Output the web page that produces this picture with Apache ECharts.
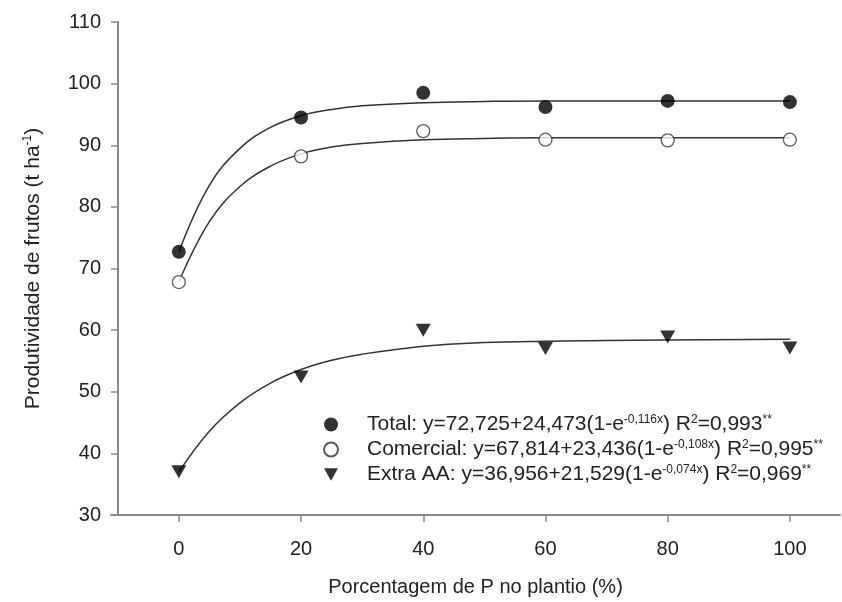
<!DOCTYPE html>
<html>
<head>
<meta charset="utf-8">
<script src="https://cdn.jsdelivr.net/npm/echarts@6/dist/echarts.min.js"></script>
<style>
  html, body { margin: 0; padding: 0; background: #fff; }
  #chart { width: 842px; height: 602px; }
</style>
</head>
<body>
<div id="chart"></div>
<script>
// pontos observados
const xValues = [0, 20, 40, 60, 80, 100];
const totalPts = [72.7, 94.5, 98.5, 96.2, 97.2, 97.0];
const comercialPts = [67.8, 88.2, 92.3, 90.9, 90.8, 90.9];
const extraPts = [37.0, 52.4, 60.0, 57.0, 58.9, 57.1];

// curvas ajustadas
const curveX = [0, 5, 10, 15, 20, 25, 30, 40, 50, 60, 80, 100];
const totalCurve = [72.7, 83.5, 89.5, 92.9, 94.8, 95.8, 96.4, 96.9, 97.1, 97.2, 97.2, 97.2];
const comercialCurve = [67.8, 77.6, 83.3, 86.6, 88.6, 89.7, 90.3, 90.9, 91.1, 91.2, 91.2, 91.2];
const extraCurve = [37.0, 43.6, 48.2, 51.4, 53.6, 55.1, 56.1, 57.4, 58.0, 58.2, 58.4, 58.5];

const xTicks = [0, 20, 40, 60, 80, 100];

const legendNames = [
  'Total: y=72,725+24,473(1-e{sup|-0,116x}) R{sup|2}=0,993{sup|**}',
  'Comercial: y=67,814+23,436(1-e{sup|-0,108x}) R{sup|2}=0,995{sup|**}',
  'Extra AA: y=36,956+21,529(1-e{sup|-0,074x}) R{sup|2}=0,969{sup|**}'
];

const pair = (xs, ys) => xs.map((x, i) => [x, ys[i]]);
const axisGray = '#8a8a8a';
const textColor = '#222';
const triDown = 'path://M0,0 L10,0 L5,9 Z';

const myChart = echarts.init(document.getElementById('chart'));

function curve(data) {
  return {
    type: 'line',
    data,
    smooth: 0.4,
    showSymbol: false,
    silent: true,
    lineStyle: { color: '#333', width: 1.5 },
    z: 1
  };
}

myChart.setOption({
  animation: false,
  textStyle: { fontFamily: 'Liberation Sans, Arial, sans-serif' },
  grid: { left: 111, right: 2, top: 22, bottom: 86 },
  legend: {
    data: legendNames,
    orient: 'vertical',
    left: 318,
    top: 409,
    itemGap: 4,
    itemWidth: 14,
    itemHeight: 14,
    textStyle: {
      fontSize: 21,
      lineHeight: 21,
      color: textColor,
      padding: [0, 0, 0, 24],
      rich: {
        sup: { fontSize: 12, lineHeight: 21, verticalAlign: 'top', padding: [0, 0, 9, 0], color: textColor }
      }
    }
  },
  xAxis: {
    type: 'value',
    min: -11.1,
    max: 108.2,
    name: 'Porcentagem de P no plantio (%)',
    nameLocation: 'middle',
    nameGap: 62,
    nameTextStyle: { fontSize: 20, color: textColor },
    splitLine: { show: false },
    axisLine: { onZero: false, lineStyle: { color: axisGray, width: 2 } },
    axisTick: { customValues: xTicks, length: 7, lineStyle: { color: axisGray, width: 1.5 } },
    axisLabel: { customValues: xTicks, fontSize: 20, color: textColor, margin: 24 }
  },
  yAxis: {
    type: 'value',
    min: 30,
    max: 110,
    interval: 10,
    offset: -7,
    name: 'Produtividade de frutos (t ha{sup|-1})',
    nameLocation: 'middle',
    nameGap: 74,
    nameTextStyle: {
      fontSize: 21,
      color: textColor,
      rich: { sup: { fontSize: 12, verticalAlign: 'top', padding: [0, 0, 10, 0], color: textColor } }
    },
    splitLine: { show: false },
    axisLine: { show: true, onZero: false, lineStyle: { color: axisGray, width: 2 } },
    axisTick: { show: true, length: 7, lineStyle: { color: axisGray, width: 1.5 } },
    axisLabel: { fontSize: 20, color: textColor, margin: 17 }
  },
  series: [
    curve(pair(curveX, totalCurve)),
    curve(pair(curveX, comercialCurve)),
    curve(pair(curveX, extraCurve)),
    {
      name: legendNames[0],
      type: 'scatter',
      data: pair(xValues, totalPts),
      symbol: 'circle',
      symbolSize: 14,
      itemStyle: { color: '#000' },
      z: 3
    },
    {
      name: legendNames[1],
      type: 'scatter',
      data: pair(xValues, comercialPts),
      symbol: 'circle',
      symbolSize: 13,
      itemStyle: { color: '#fff', borderColor: '#333', borderWidth: 1.3 },
      z: 3
    },
    {
      name: legendNames[2],
      type: 'scatter',
      data: pair(xValues, extraPts),
      symbol: triDown,
      symbolSize: [15, 13],
      itemStyle: { color: '#000' },
      z: 3
    }
  ]
});
</script>
</body>
</html>
